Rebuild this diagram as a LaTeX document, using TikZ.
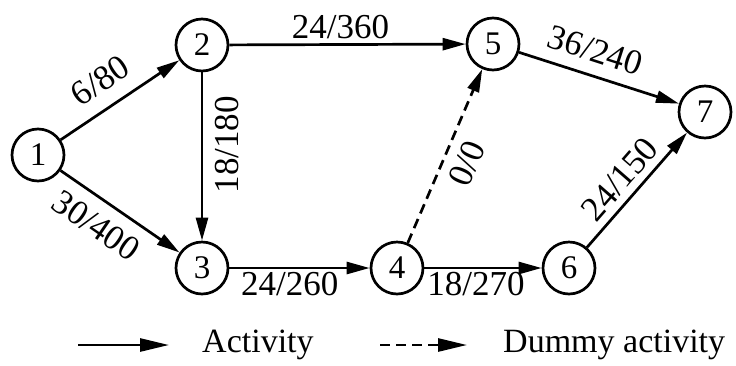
\documentclass[tikz,border=0pt]{standalone}
\usepackage{fontspec}
\setmainfont{Liberation Serif}
\usetikzlibrary{arrows.meta}
\begin{document}
\begin{tikzpicture}[x=1pt,y=-1pt,
  ev/.style={circle,draw,line width=2.7pt,minimum size=52pt,inner sep=0pt,font=\fontsize{33}{33}\selectfont},
  act/.style={line width=2.7pt,-{Triangle[length=23pt,width=12pt]}},
  dum/.style={act,dash pattern=on 10pt off 6pt},
  legact/.style={line width=2.7pt,-{Triangle[length=29pt,width=13pt]}},
  legdum/.style={legact,dash pattern=on 10pt off 6pt},
  lab/.style={font=\fontsize{35}{35}\selectfont,inner sep=6pt},
  leg/.style={font=\fontsize{34}{34}\selectfont,inner sep=0pt}]
\useasboundingbox (0,0) rectangle (736,365);
\node[ev] (n1) at (38,155) {1};
\node[ev] (n2) at (202,45) {2};
\node[ev] (n3) at (202,268) {3};
\node[ev] (n4) at (397,268) {4};
\node[ev] (n5) at (493,44) {5};
\node[ev] (n6) at (569,268) {6};
\node[ev] (n7) at (705,112) {7};
\draw[act] (n1) -- node[lab,pos=0.46,sloped,above=8pt] {6/80} (n2);
\draw[act] (n1) -- node[lab,pos=0.42,sloped,below=6pt] {30/400} (n3);
\draw[act] (n2) -- node[lab,pos=0.43,rotate=90,anchor=north,yshift=-6pt] {18/180} (n3);
\draw[act] (n2) -- node[lab,pos=0.47,above,inner sep=4pt] {24/360} (n5);
\draw[act] (n3) -- node[lab,pos=0.43,below,inner sep=3pt] {24/260} (n4);
\draw[dum] (n4) -- node[lab,pos=0.51,sloped,below=4pt] {0/0} (n5);
\draw[act] (n4) -- node[lab,pos=0.44,below,inner sep=3pt] {18/270} (n6);
\draw[act] (n5) -- node[lab,pos=0.43,sloped,above=6pt] {36/240} (n7);
\draw[act] (n6) -- node[lab,pos=0.48,sloped,above=1pt] {24/150} (n7);
\coordinate (la) at (78,345);
\coordinate (lb) at (169,345);
\coordinate (lc) at (380,345);
\coordinate (ld) at (467,345);
\draw[legact] (la) -- (lb);
\draw[legdum] (lc) -- (ld);
\node[leg,anchor=base west] (t1) at (202,352) {Activity};
\node[leg,anchor=base west] (t2) at (503,352) {Dummy activity};
\end{tikzpicture}
\end{document}
